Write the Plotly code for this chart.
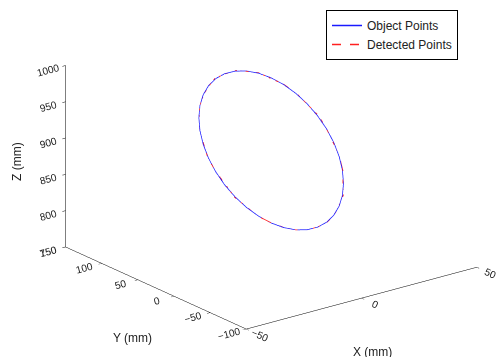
import plotly.graph_objects as go

# Object points: circle in the plane x = 0 (every 10 degrees)
obj_x = [0.0] * 37
obj_y = [125.0, 123.5, 119.0, 111.6, 101.6, 89.3, 75.0, 59.2, 42.4, 25.0, 7.6, -9.2,
         -25.0, -39.3, -51.6, -61.6, -69.0, -73.5, -75.0, -73.5, -69.0, -61.6, -51.6, -39.3,
         -25.0, -9.2, 7.6, 25.0, 42.4, 59.2, 75.0, 89.3, 101.6, 111.6, 119.0, 123.5, 125.0]
obj_z = [897.0, 914.4, 931.2, 947.0, 961.3, 973.6, 983.6, 991.0, 995.5, 997.0, 995.5, 991.0,
         983.6, 973.6, 961.3, 947.0, 931.2, 914.4, 897.0, 879.6, 862.8, 847.0, 832.7, 820.4,
         810.4, 803.0, 798.5, 797.0, 798.5, 803.0, 810.4, 820.4, 832.7, 847.0, 862.8, 879.6, 897.0]

# Detected points: nearly identical, with small deviations
det_x = [0.3, -0.2, 0.4, 0.1, -0.3, 0.2, 0.5, -0.1, 0.2, -0.4, 0.1, 0.3,
         -0.2, 0.4, 0.0, -0.3, 0.2, 0.1, -0.2, 0.3, -0.1, 0.2, 0.4, -0.3,
         0.1, -0.2, 0.3, 0.0, -0.1, 0.2, -0.3, 0.4, 0.1, -0.2, 0.2, 0.0, 0.3]
det_y = [125.4, 123.1, 119.5, 111.2, 102.0, 89.0, 75.5, 58.8, 42.9, 24.6, 7.9, -9.6,
         -24.7, -39.7, -51.3, -62.0, -68.6, -73.9, -74.7, -73.9, -68.7, -61.9, -51.2, -39.6,
         -24.6, -9.5, 7.9, 24.7, 42.8, 59.5, 74.6, 89.7, 101.3, 112.0, 118.7, 123.9, 125.4]
det_z = [897.3, 914.0, 931.6, 946.7, 961.7, 973.3, 983.9, 990.7, 995.8, 996.7, 995.8, 990.7,
         983.9, 973.3, 961.6, 946.6, 931.5, 914.1, 896.7, 879.9, 862.5, 847.3, 832.4, 820.7,
         810.1, 803.3, 798.2, 797.3, 798.2, 803.3, 810.1, 820.7, 832.4, 847.3, 862.5, 879.9, 897.3]

x_ticks = [-50, 0, 50]
y_ticks = [-100, -50, 0, 50, 100, 150]
z_ticks = [750, 800, 850, 900, 950, 1000]

FONT = "Liberation Sans, Arial"
TXT = "#222222"

fig = go.Figure()
fig.add_trace(go.Scatter3d(x=obj_x, y=obj_y, z=obj_z, mode="lines", name="Object Points",
                           line=dict(color="#1a1aff", width=1.5)))
fig.add_trace(go.Scatter3d(x=det_x, y=det_y, z=det_z, mode="lines", name="Detected Points",
                           line=dict(color="#ff2020", width=1.5, dash="dash")))

axis_common = dict(showgrid=False, showbackground=False, zeroline=False, showline=True,
                   linecolor="black", linewidth=1, ticks="outside", tickcolor="black",
                   ticklen=4, showspikes=False, title=dict(text=""),
                   tickfont=dict(family=FONT, size=11, color=TXT))

s = 1.679
k = 1.155
cx, cy, cz = -0.1086, 0.0534, -0.0636
fig.update_layout(
    width=500, height=357,
    margin=dict(l=0, r=0, t=0, b=0),
    paper_bgcolor="white",
    font=dict(family=FONT, size=12, color=TXT),
    showlegend=True,
    legend=dict(x=0.652, y=0.972, xanchor="left", yanchor="top", bgcolor="white",
                bordercolor="black", borderwidth=1, font=dict(size=12),
                tracegroupgap=0),
    scene=dict(
        domain=dict(x=[0, 1], y=[0, 1]),
        xaxis=dict(axis_common, range=[-50, 50], tickvals=x_ticks),
        yaxis=dict(axis_common, range=[-100, 150], tickvals=y_ticks),
        zaxis=dict(axis_common, range=[750, 1000], tickvals=z_ticks),
        aspectmode="manual",
        aspectratio=dict(x=0.97 * s, y=0.99 * s, z=0.646 * s),
        camera=dict(projection=dict(type="orthographic"),
                    eye=dict(x=cx - 0.571 * k, y=cy - 0.743 * k, z=cz + 0.349 * k),
                    center=dict(x=cx, y=cy, z=cz),
                    up=dict(x=0, y=0, z=1)),
    ),
)

# Axis titles placed as paper annotations (pixel positions converted to paper fractions)
for txt, px, py, ang in [("Z (mm)", 17, 162, -90), ("Y (mm)", 132, 338, 0), ("X (mm)", 372, 352, 0)]:
    fig.add_annotation(text=txt, x=px / 500, y=1 - py / 357, xref="paper", yref="paper",
                       xanchor="center", yanchor="middle", showarrow=False, textangle=ang,
                       font=dict(family=FONT, size=12, color=TXT))

fig.write_html("out.html")
